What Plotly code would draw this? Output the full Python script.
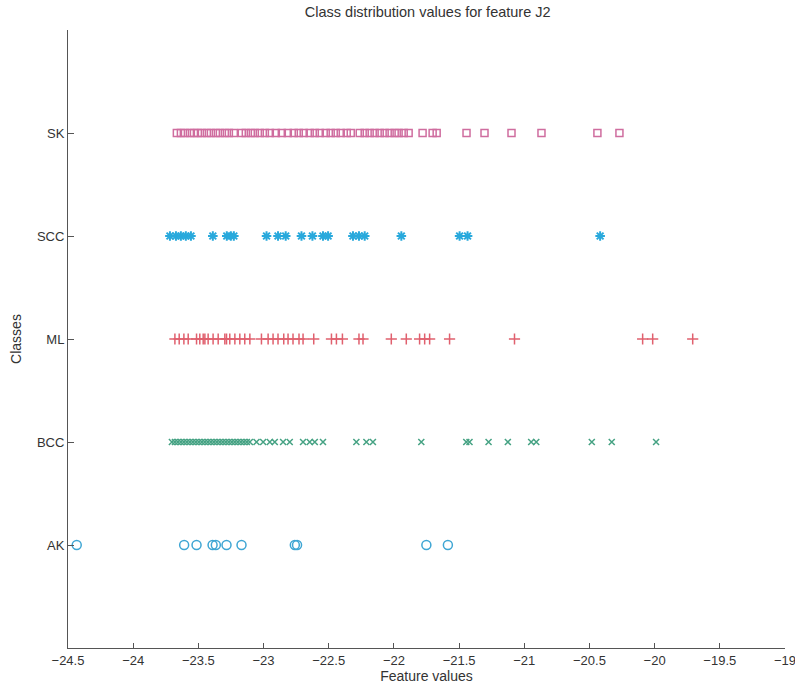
import plotly.graph_objects as go

# Class labels, bottom to top, and their y positions
classes = ["AK", "BCC", "ML", "SCC", "SK"]
class_pos = [1, 2, 3, 4, 5]

# Feature J2 values per class
ak_vals = [-24.433, -23.609, -23.514, -23.391, -23.366, -23.284, -23.169,
           -22.760, -22.743, -21.751, -21.586]

bcc_vals = [-23.703, -23.680, -23.657, -23.634, -23.611, -23.588, -23.565,
            -23.542, -23.519, -23.496, -23.473, -23.450, -23.427, -23.404,
            -23.381, -23.358, -23.335, -23.312, -23.289, -23.266, -23.243,
            -23.220, -23.197, -23.174, -23.151, -23.128, -23.105,
            -23.054, -23.003, -22.952, -22.914, -22.850, -22.799, -22.697,
            -22.646, -22.607, -22.544, -22.288, -22.211, -22.161, -21.790,
            -21.445, -21.420, -21.274, -21.126, -20.947, -20.908, -20.482,
            -20.329, -19.989]

ml_vals = [-23.680, -23.647, -23.611, -23.578, -23.514, -23.489, -23.463,
           -23.450, -23.425, -23.387, -23.348, -23.297, -23.284, -23.259,
           -23.220, -23.182, -23.144, -23.105, -23.016, -22.965, -22.927,
           -22.889, -22.845, -22.812, -22.774, -22.728, -22.697, -22.615,
           -22.479, -22.441, -22.395, -22.268, -22.237, -22.020, -21.905,
           -21.803, -21.764, -21.726, -21.573, -21.075, -20.092, -20.015,
           -19.708]

scc_vals = [-23.718, -23.672, -23.634, -23.596, -23.557, -23.389, -23.282,
            -23.251, -23.228, -22.977, -22.889, -22.830, -22.709, -22.625,
            -22.544, -22.505, -22.314, -22.268, -22.224, -21.943, -21.496,
            -21.435, -20.418]

sk_vals = [-23.665, -23.634, -23.603, -23.565, -23.534, -23.504, -23.473,
           -23.435, -23.404, -23.366, -23.335, -23.297, -23.266, -23.228,
           -23.167, -23.136, -23.098, -23.067, -23.029, -22.990, -22.952,
           -22.906, -22.860, -22.814, -22.768, -22.730, -22.692, -22.646,
           -22.607, -22.569, -22.523, -22.485, -22.446, -22.408, -22.362,
           -22.331, -22.262, -22.224, -22.186, -22.148, -22.109, -22.071,
           -22.033, -21.994, -21.964, -21.925, -21.887, -21.780, -21.703,
           -21.672, -21.443, -21.305, -21.098, -20.868, -20.439, -20.270]

x_ticks = [-24.5, -24, -23.5, -23, -22.5, -22, -21.5, -21, -20.5, -20, -19.5, -19]

series = [
    (ak_vals, 1, "circle-open", "#3fa6d4", 9, 1.5),
    (bcc_vals, 2, "x-thin-open", "#45a283", 6, 1.5),
    (ml_vals, 3, "cross-thin-open", "#e0606e", 8, 1.5),
    (scc_vals, 4, "asterisk-open", "#29a9dc", 8, 2),
    (sk_vals, 5, "square-open", "#cf6d9f", 7, 1.5),
]

fig = go.Figure()
for vals, ypos, sym, col, size, lw in series:
    fig.add_trace(go.Scatter(
        x=vals, y=[ypos] * len(vals), mode="markers",
        marker=dict(symbol=sym, size=size, color=col,
                    line=dict(color=col, width=lw)),
        showlegend=False, hoverinfo="x",
    ))

family = "Liberation Sans, Arial, sans-serif"
tick_font = dict(family=family, size=13, color="#333")
label_font = dict(family=family, size=14, color="#333")

fig.update_layout(
    width=795, height=686,
    margin=dict(l=68, r=10, t=30, b=38),
    paper_bgcolor="white", plot_bgcolor="white",
    title=dict(text="Class distribution values for feature J2",
               x=0.538, xanchor="center", y=0.982, yanchor="middle",
               font=dict(family=family, size=14.5, color="#333")),
    xaxis=dict(range=[-24.5, -19], tickvals=x_ticks,
               ticktext=[("%g" % t).replace("-", "\u2212") for t in x_ticks],
               ticks="inside", ticklen=5, tickcolor="#555",
               ticklabeloverflow="allow", automargin=False,
               showline=True, linecolor="#555", linewidth=1,
               showgrid=False, zeroline=False, tickfont=tick_font,
               title=dict(text="Feature values", font=label_font, standoff=1)),
    yaxis=dict(range=[0, 6], tickvals=class_pos, ticktext=classes,
               ticks="inside", ticklen=6, tickcolor="#555",
               automargin=False,
               showline=True, linecolor="#555", linewidth=1,
               showgrid=False, zeroline=False, tickfont=tick_font,
               title=dict(text="Classes", font=label_font, standoff=12)),
)

fig.write_html("out.html")
